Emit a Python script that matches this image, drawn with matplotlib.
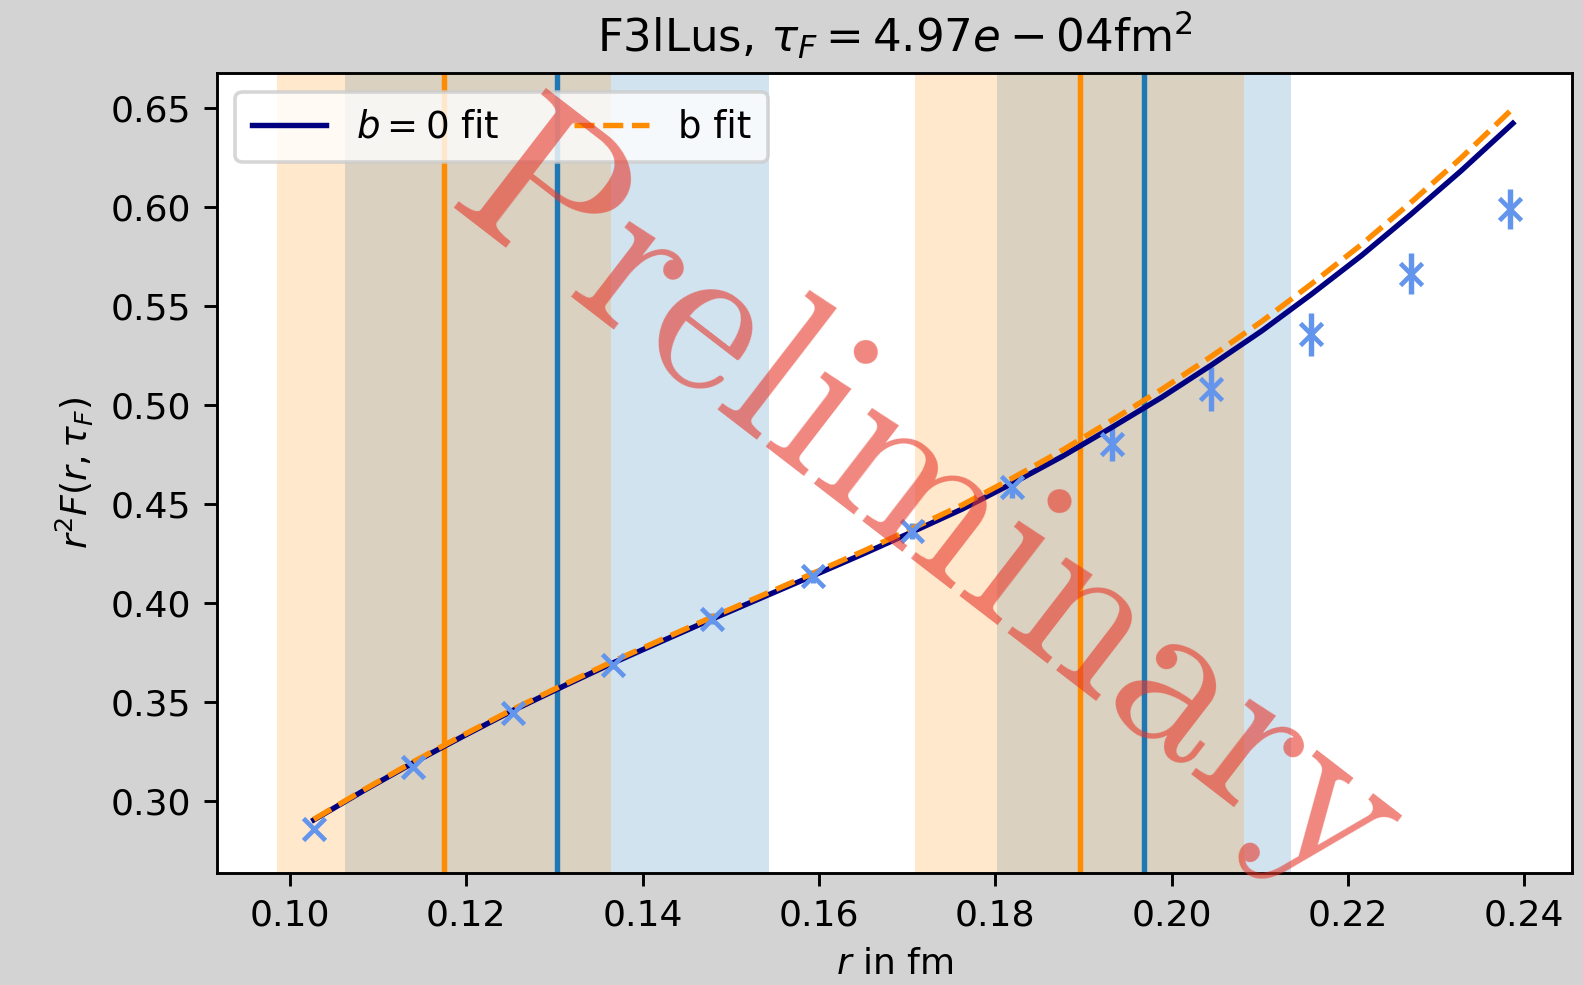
import numpy as np
import matplotlib.pyplot as plt

# lattice data: r in fm, r^2 F(r, tau_F) and errors
r_data = [0.1027, 0.1140, 0.1253, 0.1366, 0.1479, 0.1593, 0.1706,
          0.1819, 0.1932, 0.2045, 0.2158, 0.2271, 0.2384]
f_data = [0.2856, 0.3170, 0.3445, 0.3685, 0.3919, 0.4133, 0.4360,
          0.4585, 0.4800, 0.5078, 0.5356, 0.5662, 0.5987]
f_err = [0.0012, 0.0015, 0.0018, 0.0022, 0.0027, 0.0033, 0.0040,
         0.0055, 0.0085, 0.0110, 0.0108, 0.0102, 0.0101]

# fit curves evaluated on a finer r grid
r_fit = [0.1027, 0.1084, 0.1140, 0.1197, 0.1253, 0.1310, 0.1366, 0.1423,
         0.1479, 0.1536, 0.1593, 0.1650, 0.1706, 0.1763, 0.1819, 0.1876,
         0.1932, 0.1989, 0.2045, 0.2102, 0.2158, 0.2215, 0.2271, 0.2328,
         0.2387]
fit_b0 = [0.2903, 0.3052, 0.3192, 0.3327, 0.3456, 0.3578, 0.3695, 0.3808,
          0.3918, 0.4027, 0.4136, 0.4246, 0.4358, 0.4474, 0.4602, 0.4739,
          0.4885, 0.5038, 0.5200, 0.5372, 0.5556, 0.5752, 0.5960, 0.6180,
          0.6421]
fit_b = [0.2906, 0.3056, 0.3197, 0.3333, 0.3462, 0.3585, 0.3703, 0.3817,
         0.3928, 0.4038, 0.4148, 0.4260, 0.4375, 0.4495, 0.4628, 0.4770,
         0.4921, 0.5078, 0.5244, 0.5420, 0.5608, 0.5808, 0.6020, 0.6245,
         0.6496]

# r_0 / r_c estimates with their uncertainties
r_orange = [0.11745, 0.18955]
dr_orange = [0.01895, 0.01866]
r_blue = [0.13028, 0.19685]
dr_blue = [0.02405, 0.01665]

tau_F = 4.97e-04

fig = plt.figure(figsize=(1583 / 260, 985 / 260), dpi=260, facecolor='lightgray')
ax = fig.add_axes([0.1369, 0.1134, 0.8560, 0.8122])

for r0, dr in zip(r_blue, dr_blue):
    ax.axvspan(r0 - dr, r0 + dr, color='tab:blue', alpha=0.2, lw=0)
for r0, dr in zip(r_orange, dr_orange):
    ax.axvspan(r0 - dr, r0 + dr, color='darkorange', alpha=0.2, lw=0)
for r0 in r_orange:
    ax.axvline(r0, color='darkorange')
for r0 in r_blue:
    ax.axvline(r0, color='tab:blue')

ax.errorbar(r_data, f_data, yerr=f_err, fmt='x', color='cornflowerblue',
            ms=6, mew=1.3)
ax.plot(r_fit, fit_b0, color='navy', label='$b=0$ fit')
ax.plot(r_fit, fit_b, '--', color='darkorange', label='b fit')

ax.set_xlim(0.09169, 0.24538)
ax.set_ylim(0.26333, 0.66737)
ax.set_xlabel('$r$ in fm')
ax.set_ylabel(r'$r^2F(r, \tau_F)$')
ax.set_title(f'F3lLus, $\\tau_F = {tau_F:.2e}$fm$^2$', fontsize=12.5)
ax.legend(loc='upper left', ncol=2, fontsize=10.3, borderpad=0.45)

ax.text(0.5255, 0.454, 'Preliminary', transform=ax.transAxes, rotation=-37.6,
        ha='center', va='center', rotation_mode='anchor',
        family='cmr10', fontsize=61, color='#e6372a', alpha=0.6,
        zorder=10)

fig.savefig('out.png', dpi=260, facecolor=fig.get_facecolor())
